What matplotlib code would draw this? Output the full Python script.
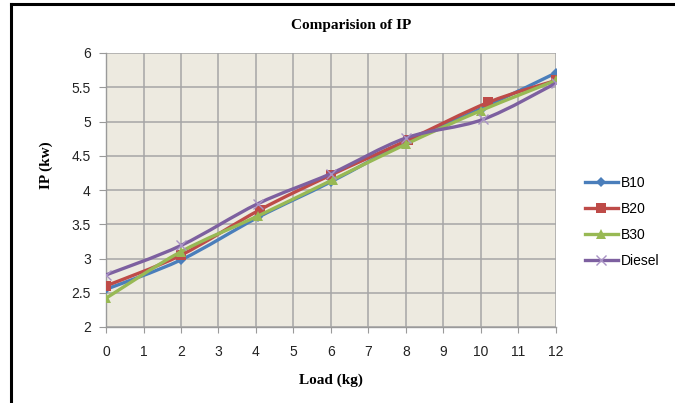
import numpy as np
import matplotlib.pyplot as plt
from matplotlib.path import Path
from matplotlib.patches import PathPatch
from matplotlib.lines import Line2D

# ── Data ───────────────────────────────────────────────────────────────────────
series_names = ["B10", "B20", "B30", "Diesel"]
load_b10 = [0, 2, 4.05, 6, 8, 10.05, 12]
ip_b10 = [2.55, 2.98, 3.60, 4.12, 4.70, 5.20, 5.71]
load_b20 = [0, 2, 4.1, 6, 8.05, 10.2, 12]
ip_b20 = [2.60, 3.05, 3.71, 4.22, 4.73, 5.28, 5.60]
load_b30 = [0, 2, 4.05, 6.05, 8, 10, 12]
ip_b30 = [2.42, 3.10, 3.62, 4.15, 4.67, 5.16, 5.60]
load_diesel = [0, 2, 4.05, 6, 8, 10.05, 12]
ip_diesel = [2.76, 3.19, 3.80, 4.24, 4.76, 5.03, 5.56]

COLORS = {"B10": "#4A7EBB", "B20": "#BE4B48", "B30": "#98B954", "Diesel": "#7D60A0"}
MARKERS = {"B10": "D", "B20": "s", "B30": "^", "Diesel": "x"}
MSIZE = {"B10": 5.5, "B20": 7.5, "B30": 7.5, "Diesel": 7}


def smooth_path(xs, ys, t=1 / 6):
    """Excel-style smoothed line: cubic Bezier through the points."""
    xs, ys = np.asarray(xs, float), np.asarray(ys, float)
    n = len(xs)
    verts = [(xs[0], ys[0])]
    codes = [Path.MOVETO]
    for i in range(n - 1):
        p0 = (xs[max(i - 1, 0)], ys[max(i - 1, 0)])
        p1 = (xs[i], ys[i])
        p2 = (xs[i + 1], ys[i + 1])
        p3 = (xs[min(i + 2, n - 1)], ys[min(i + 2, n - 1)])
        c1 = (p1[0] + (p2[0] - p0[0]) * t, p1[1] + (p2[1] - p0[1]) * t)
        c2 = (p2[0] - (p3[0] - p1[0]) * t, p2[1] - (p3[1] - p1[1]) * t)
        verts += [c1, c2, p2]
        codes += [Path.CURVE4] * 3
    return Path(verts, codes)


fig = plt.figure(figsize=(6.75, 4.03), dpi=100)
ax = fig.add_axes([106 / 675, 76 / 403, 450 / 675, 274 / 403])
ax.set_facecolor("#EDEAE0")

data = {
    "B10": (load_b10, ip_b10),
    "B20": (load_b20, ip_b20),
    "B30": (load_b30, ip_b30),
    "Diesel": (load_diesel, ip_diesel),
}
for k, name in enumerate(series_names):
    xs, ys = data[name]
    c = COLORS[name]
    ax.add_patch(PathPatch(smooth_path(xs, ys), facecolor="none", edgecolor=c,
                           lw=2.4, zorder=3 + 2 * k, capstyle="round"))
    mew = 1.0 if name == "Diesel" else 0
    mc = "#A993C4" if name == "Diesel" else c
    ax.plot(xs, ys, ls="none", marker=MARKERS[name], ms=MSIZE[name],
            color=mc, mec=mc, mew=mew, zorder=4 + 2 * k)

ax.set_xlim(0, 12)
ax.set_ylim(2, 6)
ax.set_xticks(np.arange(0, 13, 1))
ax.set_yticks(np.arange(2, 6.01, 0.5))
ax.set_yticklabels(["2", "2.5", "3", "3.5", "4", "4.5", "5", "5.5", "6"])
ax.grid(True, color="#A6A6A6", lw=1.1, zorder=1)
ax.set_axisbelow(True)
for s in ["top", "right"]:
    ax.spines[s].set_visible(False)
for s in ["left", "bottom"]:
    ax.spines[s].set_color("#9A9A9A")
    ax.spines[s].set_linewidth(1.0)
ax.tick_params(axis="x", length=4, color="#9A9A9A", pad=9, labelsize=10,
               labelcolor="#222222")
ax.tick_params(axis="y", length=5, color="#9A9A9A", pad=6, labelsize=10,
               labelcolor="#222222")
for lab in ax.get_xticklabels() + ax.get_yticklabels():
    lab.set_family("Liberation Sans")

fig.text(351 / 675, 1 - 25 / 403, "Comparision of IP", ha="center", va="center",
         family="Liberation Serif", weight="bold", fontsize=11)
fig.text(46 / 675, 1 - 165 / 403, "IP (kw)", ha="center", va="center", rotation=90,
         family="Liberation Serif", weight="bold", fontsize=11)
fig.text(331 / 675, 1 - 380 / 403, "Load (kg)", ha="center", va="center",
         family="Liberation Serif", weight="bold", fontsize=11)

handles = []
for name in series_names:
    mc = "#A993C4" if name == "Diesel" else COLORS[name]
    handles.append(Line2D([0], [0], color=COLORS[name], lw=2.4, marker=MARKERS[name],
                          ms=MSIZE[name], mfc=mc, mec=mc,
                          mew=1.0 if name == "Diesel" else 0))
fig.legend(handles, series_names, loc="center left",
           bbox_to_anchor=(572 / 675, 1 - 222 / 403), frameon=False,
           handlelength=2.4, handletextpad=0.2, labelspacing=0.85,
           prop={"family": "Liberation Sans", "size": 10})

# outer frame (top and left edges)
fig.add_artist(Line2D([11 / 675, 1], [1 - 4 / 403, 1 - 4 / 403], color="black", lw=2.2,
                      transform=fig.transFigure))
fig.add_artist(Line2D([11 / 675, 11 / 675], [0, 1 - 4 / 403], color="black", lw=2.2,
                      transform=fig.transFigure))

fig.savefig("out.png", dpi=100)
